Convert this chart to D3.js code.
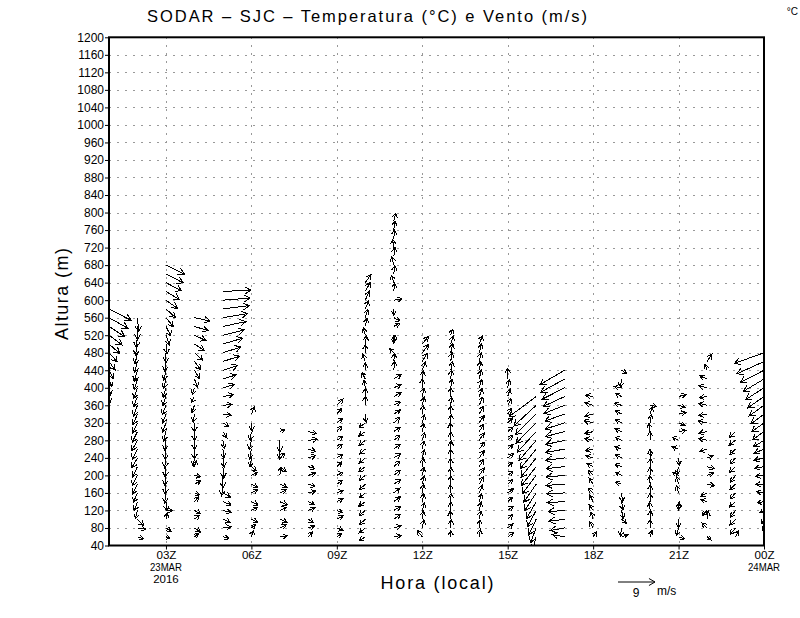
<!DOCTYPE html>
<html lang="pt">
<head>
    <meta charset="UTF-8">
    <title>SODAR - SJC - Temperatura e Vento</title>
    <script src="https://d3js.org/d3.v7.min.js"></script>
    <style>
        body {
            margin: 0;
            background: #ffffff;
        }
        svg text {
            font-family: "Liberation Sans", Arial, sans-serif;
            fill: #000;
        }
    </style>
</head>
<body>
    <div id="chart"></div>

    <script>
        // eixo vertical (altura, m)
        const yTicks = [40, 80, 120, 160, 200, 240, 280, 320, 360, 400, 440, 480, 520, 560, 600,
            640, 680, 720, 760, 800, 840, 880, 920, 960, 1000, 1040, 1080, 1120, 1160, 1200];

        // eixo horizontal (horas desde 00Z de 23MAR2016)
        const hours = [1, 2, 3, 4, 5, 6, 7, 8, 9, 10, 11, 12, 13, 14, 15, 16, 17, 18, 19, 20, 21, 22, 23, 24];
        const tickHours = [3, 6, 9, 12, 15, 18, 21, 24];
        const tickLabels = ["03Z", "06Z", "09Z", "12Z", "15Z", "18Z", "21Z", "00Z"];
        const dateHours = [3, 24];
        const dateLines = [["23MAR", "2016"], ["24MAR"]];

        // nivel mais baixo de cada perfil (m); os niveis sobem de 20 em 20 m
        const levelStep = 20;
        const colBase = [380, 60, 60, 60, 60, 60, 60, 60, 60, 60, 60, 60,
            60, 60, 60, 60, 60, 60, 60, 60, 60, 60, 60, 80];

        // componente zonal u (m/s), de baixo para cima
        const colU = [
            [0.2, 0.4, 0.7, 1.0, 1.5, 2.0, 2.6, 3.2, 3.8, 4.6, 5.4],
            [1.5, 2.0, 1.5, -0.5, -0.8, -1.0, -1.2, -1.3, -1.2, -1.4, -1.3, -1.4, -1.3, -1.2, -1.1, -1.0, -1.0, -0.9, -0.8, -0.8, -0.7, -0.6, -0.5, -0.3, 0.0, 0.3],
            [1.0, 1.2, 0.3, 1.6, 0.2, -0.3, -0.2, -0.3, -0.2, -0.3, -0.2, -0.3, -0.6, -0.8, -0.8, -0.9, -0.8, -0.7, -0.6, -0.5, -0.3, 0.0, 0.3, 0.8, 1.2, 1.8, 2.3, 2.8, 3.3, 3.8, 4.2, 4.5],
            [1.0, 1.5, 1.2, 1.5, 1.0, 1.2, 1.5, 1.5, 0.5, -0.3, 0.0, 0.0, 0.0, 0.0, -0.3, -0.6, -0.8, -0.5, 0.8, 1.2, 1.5, 2.0, 2.4, 2.8, 3.3, 3.8],
            [1.5, 2.0, 1.8, 2.0, 2.0, 1.8, -0.3, 0.0, 0.2, 0.3, 0.2, 0.4, 1.0, 1.5, 2.0, 2.2, 2.5, 2.8, 3.2, 3.6, 4.0, 4.4, 4.8, 5.2, 5.6, 6.0, 6.4, 6.6, 6.8],
            [0.5, 1.0, 1.5, 1.5, 1.6, 1.5, 1.5, 1.5, 1.2, -0.3, -0.4, -0.5, -0.3, 0.2, 0.8],
            [1.8, 1.6, 1.8, 1.6, 1.8, 1.6, 1.8, 0.2, 1.5, 1.2, 0.0, 0.0, 1.2],
            [1.0, 1.5, 1.2, 1.6, 1.5, 1.8, 1.6, 1.8, 1.6, 1.8, 1.8, 2.2, 2.0],
            [1.2, 1.5, 1.5, 1.4, 1.5, 1.5, 1.4, 1.5, 1.2, 1.5, 1.3, 1.5, 1.2, 1.4, 1.2, 1.5],
            [-1.5, -1.5, -1.4, -1.5, -1.6, -1.5, -1.4, -1.5, -1.6, -1.5, -1.4, -1.5, -1.6, -1.5, 0.2, 0.0, 0.0, -0.3, -0.8, 0.0, -0.6, 0.0, 0.3, -0.5, 0.4, 0.6, 0.8, 1.0, 1.2, 1.4],
            [1.8, 1.8, 1.6, 1.7, 1.6, 1.5, 1.7, 1.6, 1.5, 1.7, 1.6, 1.5, 1.6, 1.5, 1.6, 1.6, 1.8, 1.8, 1.8, 0.2, 0.2, -1.0, 0.3, 0.0, 1.5, 1.5, 0.0, 2.0, 0.2, -0.6, 0.3, -0.5, 0.3, -0.3, 0.2, 0.3, 0.5],
            [-1.2, 0.4, 0.3, 0.5, 0.4, 0.3, 0.5, 0.4, 0.3, 0.5, 0.4, 0.6, 0.4, 0.5, 0.3, 0.5, 0.4, 0.0, 0.3, 0.8, 1.2, 1.5, 1.5],
            [0.0, 0.1, -0.1, 0.0, 0.1, -0.1, 0.0, 0.1, -0.1, 0.0, 0.1, 0.0, -0.1, 0.1, 0.0, 0.2, 0.0, 0.3, 0.2, 0.4, 0.3, 0.5, 0.6, 0.5],
            [0.3, 0.2, 0.4, 0.5, 0.6, 0.8, 1.0, 1.2, 1.1, 1.2, 1.3, 1.2, 1.1, 1.2, 1.0, 0.9, 0.8, 0.6, 0.5, 0.4, 0.5, 0.6, 0.8],
            [1.5, 1.3, 1.2, 1.3, 1.2, 1.4, 1.2, 1.3, 1.2, 1.4, 1.3, 1.2, 1.3, 1.2, 1.0, 0.8, 0.6, 0.4, 0.0],
            [-0.8, -1.4, -1.8, -2.2, -2.4, -2.8, -3.0, -3.4, -3.6, -3.7, -3.9, -4.2, -4.6, -4.9, -5.0, -5.4, -6.6],
            [-3.0, -3.5, -3.8, -4.0, -4.2, -4.4, -4.5, -4.5, -4.5, -4.6, -4.6, -4.6, -4.6, -4.7, -4.8, -5.0, -5.2, -5.5, -5.8, -6.0],
            [0.8, -0.8, -0.5, -1.0, -0.8, -1.2, -1.0, -1.2, -1.5, -1.8, -1.8, -2.0, -2.0, -2.2, -2.0, -2.0, -1.8],
            [1.5, -0.3, 1.2, 0.4, 0.3, 0.2, -1.5, -1.5, -1.6, -1.5, -1.7, -1.5, -1.6, -1.5, -1.5, -1.8, -1.5, -1.8, -0.3, 1.2],
            [0.5, 0.0, 0.1, -0.1, 0.0, 0.1, -0.1, 0.0, 0.1, 0.0, 0.2, 0.0, -0.3, 0.3, 0.5, 1.6],
            [1.5, -0.5, 0.0, 0.2, 0.0, -0.5, -0.5, -1.5, -0.5, 0.2, -1.6, -1.5, 1.8, 1.5, 1.8, 1.6, 1.8],
            [1.0, -1.2, 0.3, -1.2, -1.5, -1.5, 1.8, 1.6, 1.8, 1.5, -1.8, -2.0, -2.0, -2.2, -2.0, -2.0, -1.8, -2.0, -1.8, -0.5, 1.2],
            [0.8, -1.3, -1.4, -1.2, -1.5, -1.3, -1.4, -1.2, -1.5, -1.3, -1.4, -1.6, -1.5],
            [-0.3, -0.5, -1.0, -1.6, -1.8, -2.0, -2.0, -2.2, -2.4, -2.4, -2.6, -2.8, -3.0, -3.2, -3.6, -4.0, -4.5, -5.0, -5.8, -6.6, -7.2]
        ];

        // componente meridional v (m/s), de baixo para cima
        const colV = [
            [-1.6, -1.8, -1.9, -2.0, -2.1, -2.2, -2.3, -2.4, -2.5, -2.6, -2.8],
            [-0.5, -0.3, -1.5, -2.0, -2.2, -2.3, -2.4, -2.5, -2.5, -2.4, -2.5, -2.5, -2.6, -2.5, -2.6, -2.6, -2.5, -2.6, -2.6, -2.7, -2.7, -2.8, -2.8, -3.0, -3.2, -3.4],
            [-0.5, -0.8, 1.5, 0.0, -2.2, -2.4, -2.4, -2.4, -2.5, -2.4, -2.5, -2.4, -2.3, -2.3, -2.2, -2.3, -2.2, -2.3, -2.3, -2.4, -2.4, -2.4, -2.4, -2.4, -2.3, -2.2, -2.1, -2.0, -2.0, -2.0, -2.2, -2.2],
            [0.8, -1.0, 1.0, -0.8, 1.2, -0.5, 0.8, -0.3, 1.5, -2.0, -2.4, -2.3, -2.2, -2.2, -2.0, -1.8, -1.5, -1.6, -2.0, -2.0, -2.0, -1.8, -1.6, -1.3, -1.0, -0.8],
            [-0.5, 0.3, -0.8, -0.5, -0.8, -1.0, -2.8, -3.0, -2.8, -2.3, -2.2, -2.0, -1.5, -1.0, -0.3, 0.2, 0.5, 0.8, 1.0, 1.2, 1.3, 1.4, 1.4, 1.3, 1.2, 1.0, 0.8, 0.5, 0.3],
            [1.5, 0.8, -0.8, 0.8, -0.8, 0.8, -0.8, 0.8, -1.0, -2.2, -2.4, -2.3, -2.2, -2.0, 1.8],
            [0.2, 0.8, -0.8, 0.8, -0.8, 0.8, -0.8, 2.0, -1.2, 1.2, -2.5, -2.8, 0.5],
            [1.2, 0.5, -0.8, 0.7, -0.7, 0.5, -0.6, 0.6, -0.5, 0.6, -0.6, 0.3, -0.5],
            [0.8, -0.6, 0.8, -0.5, 0.8, 0.6, 1.0, 0.8, 1.2, 0.9, 1.2, 1.0, 1.3, 1.1, 1.4, 1.5],
            [-1.0, -1.2, -1.3, -1.2, -1.1, -1.2, -1.3, -1.2, -1.2, -1.3, -1.2, -1.2, -1.1, -1.2, -2.0, 2.2, 2.0, 1.8, 1.6, 1.8, 1.8, 2.0, 2.0, 1.8, 2.0, 2.0, 2.0, 2.2, 2.2, 2.0],
            [0.3, 0.5, 1.2, 1.0, 1.2, 1.2, 1.1, 1.2, 1.3, 1.0, 1.2, 1.2, 1.1, 1.3, 1.0, 0.8, 1.0, 0.8, 1.2, 2.2, 2.0, 1.0, 2.2, -2.0, 0.8, -0.8, -1.5, 0.3, 2.0, 1.8, 2.0, 2.0, 2.2, 2.0, 2.2, 2.2, 2.0],
            [1.5, 2.0, 2.0, 1.9, 2.0, 2.1, 2.0, 2.0, 2.1, 2.0, 2.0, 1.9, 2.0, 2.0, 2.1, 2.0, 2.1, 2.2, 2.0, 2.0, 2.0, 2.0, 1.8],
            [1.5, 2.0, 2.0, 2.1, 2.0, 2.0, 2.1, 2.0, 2.0, 2.1, 2.0, 2.0, 2.1, 2.0, 2.1, 2.0, 2.2, 2.1, 2.2, 2.1, 2.2, 2.2, 2.0, 1.5],
            [1.8, 2.0, 2.0, 2.0, 1.9, 1.9, 1.8, 1.8, 1.8, 1.8, 1.7, 1.8, 1.8, 1.8, 1.9, 2.0, 2.0, 2.1, 2.2, 2.2, 2.2, 2.2, 2.0],
            [1.0, 1.0, 1.1, 1.0, 1.1, 1.0, 1.1, 1.0, 1.1, 1.0, 1.1, 1.2, 1.1, 1.2, 1.4, 1.6, 1.8, 2.0, 2.6],
            [-3.2, -3.6, -3.8, -4.0, -4.2, -4.3, -4.4, -4.5, -4.6, -4.7, -4.8, -4.9, -5.0, -5.0, -5.0, -5.0, -4.9],
            [0.5, -0.6, -0.5, -0.3, -0.2, -0.2, -0.3, -0.4, -0.5, -0.6, -0.8, -1.0, -1.2, -1.5, -1.7, -2.0, -2.4, -2.8, -3.2, -3.5],
            [1.2, 1.5, 1.8, 1.4, 1.6, 1.2, 1.5, 1.2, 0.8, 0.5, -0.4, 0.5, -0.5, 0.6, -0.5, 0.6, 0.3],
            [0.5, -2.0, -1.0, -2.0, -2.0, -2.2, 0.5, 0.8, 0.6, 0.8, 0.6, 0.8, 0.7, 0.8, 0.8, 0.5, 0.8, 0.3, -2.0, -0.8],
            [1.5, 2.0, 2.1, 2.0, 2.1, 2.0, 2.1, 2.0, 2.0, 2.1, -1.8, 2.2, 2.0, 2.0, 1.8, -0.3],
            [-0.5, -1.8, -2.0, 2.0, -2.0, 1.8, 1.8, 0.8, -2.0, -1.8, 0.6, 0.8, 0.3, -0.6, 0.4, -0.5, 0.5],
            [-0.8, 1.2, 2.0, -1.2, 0.5, -0.8, -0.4, 0.6, -0.5, 0.5, -0.5, 0.5, -0.4, 0.4, -0.4, 0.5, -0.3, 0.5, 0.8, 1.5, 1.8],
            [1.5, -1.5, -1.4, -1.6, -1.3, -1.5, -1.4, -1.6, -1.4, -1.5, -1.3, -1.2, -1.4],
            [-0.5, -1.0, -0.5, -0.3, 0.3, 0.0, -0.2, -0.4, -0.6, -1.0, -1.6, -2.0, -2.2, -2.4, -2.6, -2.8, -2.9, -3.0, -3.0, -3.0, -2.6]
        ];

        // vetor de referencia da legenda
        const refSpeed = 9;

        const width = 800, height = 618;
        const plotLeft = 109, plotRight = 764, plotTop = 37.3, plotBottom = 545.5;

        const svg = d3.select("#chart").append("svg")
            .attr("width", width)
            .attr("height", height);

        const x = d3.scaleLinear().domain([1, 24]).range([plotLeft, plotRight]);
        const y = d3.scaleLinear().domain([40, 1200]).range([plotBottom, plotTop]);
        // 9 m/s -> ~37 px
        const vec = d3.scaleLinear().domain([0, refSpeed]).range([0, 37]);

        // grade tracejada
        const grid = svg.append("g")
            .attr("stroke", "#999999")
            .attr("stroke-width", 1)
            .attr("stroke-dasharray", "2,6")
            .attr("shape-rendering", "crispEdges");
        grid.selectAll("line.h")
            .data(yTicks.filter(d => d > 40 && d < 1200))
            .enter().append("line")
            .attr("x1", plotLeft).attr("x2", plotRight)
            .attr("y1", d => Math.round(y(d)) + 0.5)
            .attr("y2", d => Math.round(y(d)) + 0.5);
        grid.selectAll("line.v")
            .data(tickHours.filter(d => d < 24))
            .enter().append("line")
            .attr("y1", plotTop).attr("y2", plotBottom)
            .attr("x1", d => Math.round(x(d)) + 0.5)
            .attr("x2", d => Math.round(x(d)) + 0.5);

        // vetores de vento
        svg.append("clipPath").attr("id", "plotclip")
            .append("rect")
            .attr("x", plotLeft).attr("y", plotTop)
            .attr("width", plotRight - plotLeft).attr("height", plotBottom - plotTop);

        const vectors = [];
        hours.forEach((h, i) => {
            colU[i].forEach((u, j) => {
                vectors.push({ hour: h, level: colBase[i] + j * levelStep, u: u, v: colV[i][j] });
            });
        });

        function arrowPath(x0, y0, dx, dy) {
            const len = Math.sqrt(dx * dx + dy * dy);
            if (len < 0.5) return "";
            const x1 = x0 + dx, y1 = y0 + dy;
            const ang = Math.atan2(dy, dx);
            const hl = Math.min(7, 0.22 * len + 3.5);
            const a = 30 * Math.PI / 180;
            const bx1 = x1 - hl * Math.cos(ang - a), by1 = y1 - hl * Math.sin(ang - a);
            const bx2 = x1 - hl * Math.cos(ang + a), by2 = y1 - hl * Math.sin(ang + a);
            return `M${x0},${y0}L${x1},${y1}M${bx1},${by1}L${x1},${y1}L${bx2},${by2}`;
        }

        svg.append("g")
            .attr("clip-path", "url(#plotclip)")
            .selectAll("path")
            .data(vectors)
            .enter().append("path")
            .attr("d", d => arrowPath(x(d.hour), y(d.level), vec(d.u), -vec(d.v)))
            .attr("fill", "none")
            .attr("stroke", "#000")
            .attr("stroke-width", 1)
            .attr("shape-rendering", "crispEdges");

        // moldura
        svg.append("rect")
            .attr("x", plotLeft).attr("y", plotTop)
            .attr("width", plotRight - plotLeft).attr("height", plotBottom - plotTop)
            .attr("fill", "none")
            .attr("stroke", "#000")
            .attr("stroke-width", 2);

        // eixo y
        const yAxis = d3.axisLeft(y)
            .tickValues(yTicks)
            .tickSize(4)
            .tickPadding(1)
            .tickFormat(d3.format("d"));
        const gy = svg.append("g")
            .attr("transform", `translate(${plotLeft},0)`)
            .call(yAxis);
        gy.select(".domain").remove();
        gy.selectAll("text")
            .attr("font-size", "12px")
            .attr("font-family", "'Liberation Sans', Arial, sans-serif");

        // eixo x
        const xAxis = d3.axisBottom(x)
            .tickValues(tickHours)
            .tickSize(4)
            .tickPadding(2)
            .tickFormat((d, i) => tickLabels[i]);
        const gx = svg.append("g")
            .attr("transform", `translate(0,${plotBottom})`)
            .call(xAxis);
        gx.select(".domain").remove();
        gx.selectAll("text")
            .attr("font-size", "10.5px")
            .attr("textLength", 20)
            .attr("lengthAdjust", "spacingAndGlyphs")
            .attr("font-family", "'Liberation Sans', Arial, sans-serif");

        dateHours.forEach((h, i) => {
            dateLines[i].forEach((line, k) => {
                svg.append("text")
                    .attr("x", x(h))
                    .attr("y", 571 + k * 12)
                    .attr("text-anchor", "middle")
                    .attr("font-size", "10.5px")
                    .attr("textLength", line.length * 6.4)
                    .attr("lengthAdjust", "spacingAndGlyphs")
                    .text(line);
            });
        });

        // titulos
        svg.append("text")
            .attr("x", 367)
            .attr("y", 22)
            .attr("text-anchor", "middle")
            .attr("font-size", "16.5px")
            .attr("textLength", 440)
            .attr("lengthAdjust", "spacing")
            .text("SODAR – SJC – Temperatura (°C) e Vento (m/s)");

        svg.append("text")
            .attr("x", 798)
            .attr("y", 15)
            .attr("text-anchor", "end")
            .attr("font-size", "10px")
            .text("°C");

        svg.append("text")
            .attr("transform", "translate(68,294) rotate(-90)")
            .attr("text-anchor", "middle")
            .attr("font-size", "18px")
            .attr("textLength", 92)
            .attr("lengthAdjust", "spacing")
            .text("Altura (m)");

        svg.append("text")
            .attr("x", 437)
            .attr("y", 589)
            .attr("text-anchor", "middle")
            .attr("font-size", "18px")
            .attr("textLength", 113)
            .attr("lengthAdjust", "spacing")
            .text("Hora (local)");

        // legenda do vetor
        svg.append("path")
            .attr("d", arrowPath(618, 582, vec(refSpeed), 0))
            .attr("fill", "none")
            .attr("stroke", "#000")
            .attr("stroke-width", 1);
        svg.append("text")
            .attr("x", 636)
            .attr("y", 597)
            .attr("text-anchor", "middle")
            .attr("font-size", "12px")
            .text(refSpeed);
        svg.append("text")
            .attr("x", 657)
            .attr("y", 595)
            .attr("font-size", "12px")
            .text("m/s");
    </script>
</body>
</html>
